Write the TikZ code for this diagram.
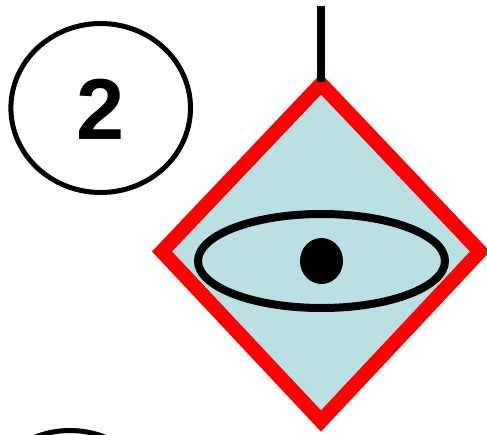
\documentclass[tikz,border=0pt]{standalone}
\usepackage{fontspec}
\setmainfont{Liberation Sans}
\definecolor{diafill}{HTML}{BBE0E3}
\definecolor{diared}{HTML}{FF0000}
\begin{document}
\begin{tikzpicture}[x=1pt,y=-1pt,
  numcirc/.style={draw=black,line width=5pt},
  decborder/.style={draw=diared,fill=diafill,line width=14.5pt,line join=miter},
  eyeshape/.style={draw=black,line width=8pt},
  conn/.style={draw=black,line width=8pt}]
\useasboundingbox (0,0) rectangle (487,435);
\clip (0,0) rectangle (487,435);
% numbered circle
\draw[numcirc] (100.7,108) ellipse [x radius=89.8,y radius=84.5];
\node[font=\fontsize{86.5}{86.5}\selectfont\bfseries,inner sep=0pt] (two) at (101,109) {2};
% partial circle at bottom left
\draw[numcirc] (70,515) ellipse [x radius=89.8,y radius=84.5];
% decision diamond
\coordinate (dtop) at (321,84);
\coordinate (dright) at (480,251.5);
\coordinate (dbot) at (321,421);
\coordinate (dleft) at (162,251.5);
\path[decborder] (dtop) -- (dright) -- (dbot) -- (dleft) -- cycle;
% eye
\draw[eyeshape] (321.5,261) ellipse [x radius=123.5,y radius=47];
\fill[black] (321.5,261) ellipse [x radius=21.5,y radius=23];
% connector
\coordinate (ctop) at (321,6);
\coordinate (cbot) at (321,82);
\draw[conn] (ctop) -- (cbot);
\end{tikzpicture}
\end{document}
